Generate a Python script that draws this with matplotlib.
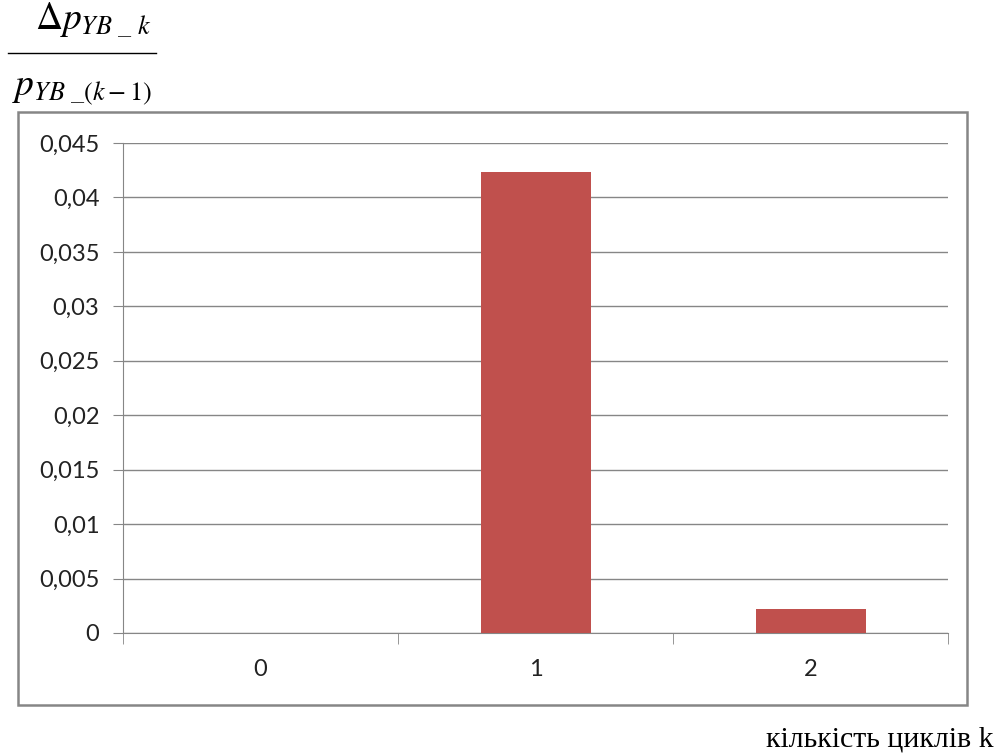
import numpy as np
import matplotlib.pyplot as plt
from matplotlib.patches import Rectangle
from matplotlib.lines import Line2D

# relative change of pressure per cycle
cycles = ['0', '1', '2']
ratio = [0.0, 0.04234, 0.0022]
yticks = [0, 0.005, 0.01, 0.015, 0.02, 0.025, 0.03, 0.035, 0.04, 0.045]

fig = plt.figure(figsize=(10, 7.56), dpi=100)
ax = fig.add_axes([0.123, 0.1627, 0.825, 0.6481])

x = np.arange(len(cycles))
ax.bar(x, ratio, width=0.4, color='#C0504D', zorder=3)
ax.set_xlim(-0.5, len(cycles) - 0.5)
ax.set_ylim(0, 0.045)

ax.set_yticks(yticks)
ax.set_yticklabels([('%g' % v).replace('.', ',') for v in yticks],
                   fontsize=17, family='Lato', color='#222222')
ax.yaxis.grid(True, color='#868686', lw=1, zorder=0)
ax.tick_params(axis='y', length=7, color='#868686', pad=10)

ax.set_xticks(x)
ax.set_xticklabels(cycles, fontsize=17, family='Lato', color='#222222')
ax.tick_params(axis='x', length=0, pad=19)
ax.set_xticks(np.arange(-0.5, len(cycles)), minor=True)
ax.tick_params(axis='x', which='minor', length=8, color='#868686')

for side in ['top', 'right']:
    ax.spines[side].set_visible(False)
for side in ['left', 'bottom']:
    ax.spines[side].set_color('#868686')

# outer chart border
fig.add_artist(Rectangle((0.018, 0.0675), 0.949, 0.7845, transform=fig.transFigure,
                         fill=False, edgecolor='#868686', lw=1.8))

# fraction on the y axis
serif = 'Liberation Serif'
fig.text(0.035, 0.974, r'$\Delta p_{YB\ \_\ k}$', fontsize=27, ha='left', va='center',
         math_fontfamily='stix')
fig.add_artist(Line2D([0.008, 0.156], [0.93, 0.93], transform=fig.transFigure,
                      color='black', lw=1))
fig.text(0.012, 0.882, r'$p_{YB\ \_(k-1)}$', fontsize=27, ha='left', va='center',
         math_fontfamily='stix')

fig.text(0.994, 0.022, 'кількість циклів k', fontsize=21.5, family=serif,
         ha='right', va='center')

fig.savefig('out.png', dpi=100)
